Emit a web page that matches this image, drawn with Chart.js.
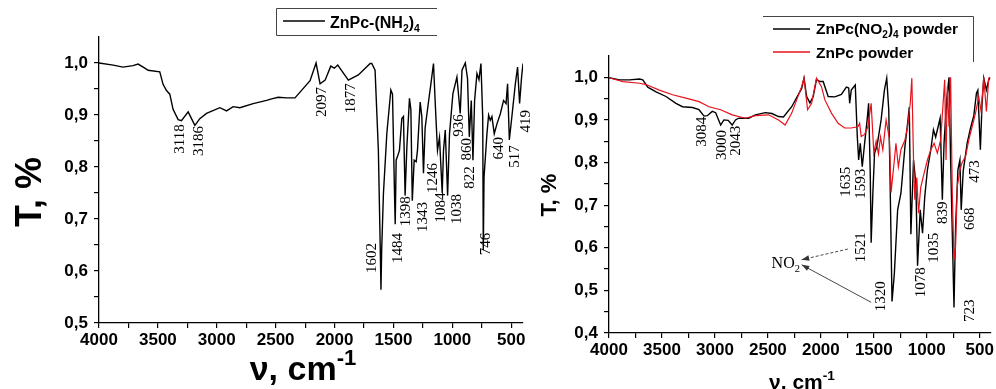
<!DOCTYPE html>
<html>
<head>
<meta charset="utf-8">
<script src="https://cdn.jsdelivr.net/npm/chart.js@4.4.1/dist/chart.umd.min.js"></script>
<style>
  body { margin: 0; background: #fff; }
  #left { position: absolute; left: 0; top: 0; }
  #right { position: absolute; left: 540px; top: 0; }
</style>
</head>
<body>
<canvas id="left" width="540" height="389"></canvas>
<canvas id="right" width="456" height="389"></canvas>
<script>
// ZnPc-(NH2)4 spectrum (wavenumber, transmittance)
const nh2Nu = [4000, 3879, 3796, 3711, 3668, 3611, 3583, 3484, 3456, 3427, 3399, 3371, 3328, 3300, 3243, 3186, 3144, 3087,
  2974, 2917, 2861, 2804, 2691, 2577, 2534, 2478, 2407, 2336, 2293, 2208, 2157, 2123, 2080, 2032, 2002, 1973, 1883, 1798,
  1698, 1684, 1656, 1628, 1610, 1606, 1600, 1585, 1556, 1522, 1508, 1491, 1485, 1477, 1466, 1449, 1429, 1415, 1401, 1386,
  1364, 1352, 1340, 1324, 1307, 1296, 1273, 1259, 1245, 1231, 1202, 1182, 1160, 1145, 1126, 1109, 1086, 1075, 1060, 1040,
  1024, 995, 961, 933, 918, 890, 871, 856, 839, 825, 811, 791, 774, 757, 742, 737, 731, 706, 692, 678, 664, 644, 621, 593,
  565, 544, 531, 516, 493, 465, 446, 429, 412, 400];
const nh2T = [1.0, 0.996, 0.992, 0.995, 0.998, 0.99, 0.986, 0.983, 0.959, 0.947, 0.94, 0.911, 0.891, 0.889, 0.906, 0.88, 0.893, 0.903,
  0.914, 0.908, 0.916, 0.914, 0.922, 0.928, 0.931, 0.934, 0.933, 0.933, 0.944, 0.966, 1.0, 0.96, 0.967, 0.994, 0.99, 0.996, 0.967, 0.977,
  0.999, 0.999, 0.986, 0.832, 0.62, 0.564, 0.64, 0.749, 0.865, 0.948, 0.94, 0.749, 0.69, 0.813, 0.82, 0.832, 0.893, 0.897, 0.745, 0.839,
  0.932, 0.91, 0.735, 0.813, 0.81, 0.832, 0.925, 0.897, 0.788, 0.875, 0.926, 0.96, 0.999, 0.922, 0.832, 0.857, 0.75, 0.832, 0.871, 0.745,
  0.864, 0.941, 0.973, 0.903, 0.986, 1.0, 0.97, 0.858, 0.928, 0.813, 0.928, 0.98, 0.968, 0.999, 0.895, 0.64, 0.78, 0.864, 0.9, 0.89, 0.897, 0.864, 0.883, 0.902,
  0.928, 0.922, 0.96, 0.852, 0.9, 0.96, 0.992, 0.922, 0.973, 0.999];

// ZnPc(NO2)4 powder
const no2Nu = [4000, 3900, 3806, 3712, 3681, 3634, 3556, 3462, 3368, 3306, 3212, 3150, 3103, 3072, 3025, 2993, 2946, 2915, 2875,
  2837, 2806, 2775, 2681, 2618, 2524, 2462, 2400, 2353, 2275, 2181, 2159, 2134, 2103, 2072, 2041, 2009, 1978, 1931, 1868, 1806,
  1759, 1737, 1728, 1713, 1675, 1656, 1643, 1628, 1609, 1587, 1563, 1549, 1534, 1525, 1509, 1493, 1469, 1431, 1400, 1378, 1359,
  1347, 1328, 1306, 1275, 1244, 1206, 1181, 1165, 1150, 1125, 1103, 1087, 1062, 1040, 1019, 994, 962, 937, 916, 893, 874, 853,
  837, 812, 790, 775, 759, 743, 728, 706, 687, 675, 656, 619, 588, 556, 531, 518, 494, 478, 462, 437, 415, 400];
const no2T = [0.999, 0.994, 0.994, 0.996, 0.994, 0.977, 0.966, 0.955, 0.939, 0.931, 0.929, 0.924, 0.909, 0.91, 0.92, 0.917, 0.888, 0.9, 0.899,
  0.888, 0.9, 0.904, 0.904, 0.912, 0.917, 0.915, 0.908, 0.907, 0.931, 0.974, 0.998, 0.955, 0.94, 0.955, 0.995, 0.99, 0.99, 0.955, 0.954, 0.96,
  0.977, 0.975, 0.939, 0.97, 0.982, 0.861, 0.806, 0.845, 0.79, 0.845, 0.9, 0.939, 0.78, 0.612, 0.728, 0.822, 0.84, 0.9, 0.97, 0.998, 0.924,
  0.767, 0.474, 0.54, 0.689, 0.728, 0.838, 0.892, 0.93, 0.632, 0.806, 0.75, 0.558, 0.689, 0.634, 0.72, 0.783, 0.83, 0.877, 0.86, 0.884, 0.904, 0.713,
  0.845, 0.947, 1.0, 0.806, 0.634, 0.46, 0.65, 0.783, 0.806, 0.689, 0.78, 0.845, 0.88, 0.91, 0.963, 0.97, 0.83, 0.939, 0.998, 0.97, 0.994, 1.0];

// ZnPc powder
const pcNu = [4000, 3869, 3712, 3650, 3525, 3400, 3274, 3150, 3056, 2946, 2837, 2712, 2618, 2493, 2400, 2337, 2275, 2181, 2159,
  2125, 2087, 2041, 1994, 1962, 1900, 1837, 1775, 1713, 1650, 1634, 1619, 1587, 1556, 1525, 1500, 1478, 1456, 1437, 1415, 1384,
  1353, 1337, 1306, 1291, 1268, 1244, 1206, 1181, 1156, 1141, 1125, 1113, 1094, 1078, 1057, 1025, 994, 962, 931, 900, 869, 831,
  818, 806, 790, 775, 759, 743, 728, 712, 687, 666, 634, 603, 572, 541, 509, 487, 462, 437, 415, 400];
const pcT = [0.999, 0.99, 0.986, 0.983, 0.97, 0.959, 0.951, 0.943, 0.931, 0.924, 0.912, 0.904, 0.91, 0.912, 0.9, 0.888, 0.916, 0.978, 0.998,
  0.924, 0.939, 0.998, 0.978, 0.947, 0.916, 0.892, 0.881, 0.881, 0.884, 0.892, 0.861, 0.866, 0.884, 0.939, 0.822, 0.85, 0.82, 0.86, 0.83, 0.9,
  0.856, 0.73, 0.806, 0.845, 0.79, 0.83, 0.853, 0.884, 0.939, 0.998, 0.806, 0.713, 0.765, 0.681, 0.742, 0.775, 0.806, 0.83, 0.845, 0.822, 0.853, 0.994,
  0.806, 0.978, 0.884, 1.0, 0.728, 0.572, 0.603, 0.744, 0.783, 0.8, 0.814, 0.853, 0.884, 0.915, 0.954, 0.92, 1.0, 0.92, 0.998, 1.0];

// peak labels: text, wavenumber and transmittance where the label sits
const nh2Labels = ["3118", "3186", "2097", "1877", "1602", "1484", "1398", "1343", "1246", "1084", "1038", "936", "860", "822", "746", "640", "517", "419"];
const nh2LabelNu = [3314, 3152, 2106, 1860, 1681, 1460, 1395, 1245, 1165, 1094, 961, 941, 876, 848, 712, 607, 471, 374];
const nh2LabelT = [0.854, 0.85, 0.925, 0.932, 0.625, 0.644, 0.715, 0.704, 0.779, 0.722, 0.719, 0.88, 0.834, 0.78, 0.652, 0.836, 0.82, 0.888];

const no2Labels = ["3084", "3000", "2043", "1635", "1593", "1521", "1320", "1078", "1035", "839", "668", "723", "473"];
const no2LabelNu = [3119, 2937, 2800, 1759, 1616, 1625, 1431, 1056, 931, 844, 593, 588, 541];
const no2LabelT = [0.872, 0.841, 0.851, 0.755, 0.75, 0.601, 0.486, 0.519, 0.6, 0.682, 0.668, 0.452, 0.779];

const xMajor = [4000, 3500, 3000, 2500, 2000, 1500, 1000, 500];
const xMinor = [3750, 3250, 2750, 2250, 1750, 1250, 750];
const yLeftTicks = [0.5, 0.55, 0.6, 0.65, 0.7, 0.75, 0.8, 0.85, 0.9, 0.95, 1.0];
const yRightTicks = [0.4, 0.45, 0.5, 0.55, 0.6, 0.65, 0.7, 0.75, 0.8, 0.85, 0.9, 0.95, 1.0];

const SANS = '"Liberation Sans", Arial, sans-serif';
const SERIF = '"Liberation Serif", "Times New Roman", serif';

function pts(nu, t) {
  return nu.map((v, i) => ({ x: v, y: t[i] }));
}

// text with sub/superscripts, parts = [[text, "n"|"sub"|"sup"], ...]
function partsWidth(ctx, parts, size) {
  let w = 0;
  parts.forEach(([t, k]) => {
    ctx.font = `bold ${k === "n" ? size : size * 0.65}px ${SANS}`;
    w += ctx.measureText(t).width;
  });
  return w;
}
function drawParts(ctx, parts, x, y, size, family, weight) {
  let cx = x;
  parts.forEach(([t, k]) => {
    let s = k === "n" ? size : size * 0.65;
    let dy = k === "sub" ? size * 0.28 : k === "sup" ? -size * 0.45 : 0;
    ctx.font = `${weight} ${s}px ${family}`;
    ctx.textAlign = "left";
    ctx.textBaseline = "alphabetic";
    ctx.fillText(t, cx, y + dy);
    cx += ctx.measureText(t).width;
  });
}
function vText(ctx, text, x, y, font) {
  ctx.save();
  ctx.translate(x, y);
  ctx.rotate(-Math.PI / 2);
  ctx.font = font;
  ctx.textAlign = "center";
  ctx.textBaseline = "middle";
  ctx.fillText(text, 0, 0);
  ctx.restore();
}
function arrow(ctx, x1, y1, x2, y2, dashed) {
  ctx.save();
  ctx.strokeStyle = "#333";
  ctx.fillStyle = "#333";
  ctx.lineWidth = 0.9;
  if (dashed) ctx.setLineDash([3, 2]);
  ctx.beginPath();
  ctx.moveTo(x1, y1);
  ctx.lineTo(x2, y2);
  ctx.stroke();
  ctx.setLineDash([]);
  let a = Math.atan2(y2 - y1, x2 - x1);
  ctx.beginPath();
  ctx.moveTo(x2, y2);
  ctx.lineTo(x2 - 8 * Math.cos(a - 0.35), y2 - 8 * Math.sin(a - 0.35));
  ctx.lineTo(x2 - 8 * Math.cos(a + 0.35), y2 - 8 * Math.sin(a + 0.35));
  ctx.closePath();
  ctx.fill();
  ctx.restore();
}

function axes(yTicks, yMin, yWidth, xHeight) {
  return {
    x: {
      type: "linear",
      reverse: true,
      min: 400,
      max: 4000,
      afterBuildTicks: (ax) => { ax.ticks = xMajor.concat(xMinor).sort((a, b) => b - a).map((v) => ({ value: v })); },
      afterFit: (s) => { s.height = xHeight; },
      ticks: {
        autoSkip: false,
        maxRotation: 0,
        padding: 2,
        color: "#000",
        font: { family: SANS, weight: "bold", size: 17 },
        callback: (v) => (xMajor.includes(v) ? String(v) : ""),
      },
      grid: { drawOnChartArea: false, tickLength: 5, color: "#000", lineWidth: 1.2 },
      border: { color: "#000", width: 1.3 },
    },
    y: {
      type: "linear",
      min: yMin,
      max: 1.05,
      afterBuildTicks: (ax) => { ax.ticks = yTicks.map((v) => ({ value: v })); },
      afterFit: (s) => { s.width = yWidth; },
      ticks: {
        autoSkip: false,
        padding: 6,
        color: "#000",
        font: { family: SANS, weight: "bold", size: 17 },
        callback: (v) => (Math.round(v * 100) % 10 === 0 ? v.toFixed(1).replace(".", ",") : ""),
      },
      grid: { drawOnChartArea: false, tickLength: 5, color: "#000", lineWidth: 1.2 },
      border: { color: "#000", width: 1.3 },
    },
  };
}

function peakLabels(chart, labels, nu, t) {
  const ctx = chart.ctx;
  const xs = chart.scales.x, ys = chart.scales.y;
  ctx.fillStyle = "#000";
  labels.forEach((l, i) => {
    vText(ctx, l, xs.getPixelForValue(nu[i]), ys.getPixelForValue(t[i]), `15px ${SERIF}`);
  });
}

const leftDecor = {
  id: "leftDecor",
  afterDraw(chart) {
    const ctx = chart.ctx;
    ctx.save();
    peakLabels(chart, nh2Labels, nh2LabelNu, nh2LabelT);
    // legend
    ctx.strokeStyle = "#444";
    ctx.lineWidth = 1;
    ctx.beginPath();
    ctx.moveTo(437, 8.5); ctx.lineTo(276.5, 8.5); ctx.lineTo(276.5, 35.5); ctx.lineTo(437, 35.5);
    ctx.stroke();
    ctx.strokeStyle = "#000";
    ctx.lineWidth = 1.5;
    ctx.beginPath(); ctx.moveTo(283, 21); ctx.lineTo(325, 21); ctx.stroke();
    ctx.fillStyle = "#000";
    drawParts(ctx, [["ZnPc-(NH", "n"], ["2", "sub"], [")", "n"], ["4", "sub"]], 330, 27.5, 16, SANS, "bold");
    // axis titles
    vText(ctx, "T, %", 31, 192, `bold 36px ${SANS}`);
    const tp = [["\u03bd, cm", "n"], ["-1", "sup"]];
    drawParts(ctx, tp, 303 - partsWidth(ctx, tp, 34) / 2, 380, 34, SANS, "bold");
    ctx.restore();
  },
};

const rightDecor = {
  id: "rightDecor",
  afterDraw(chart) {
    const ctx = chart.ctx;
    const xs = chart.scales.x, ys = chart.scales.y;
    ctx.save();
    peakLabels(chart, no2Labels, no2LabelNu, no2LabelT);
    // NO2 note with arrows
    ctx.fillStyle = "#000";
    drawParts(ctx, [["NO", "n"], ["2", "sub"]], xs.getPixelForValue(2465), ys.getPixelForValue(0.553), 16, SERIF, "normal");
    arrow(ctx, xs.getPixelForValue(1745), ys.getPixelForValue(0.597), xs.getPixelForValue(2181), ys.getPixelForValue(0.572), true);
    arrow(ctx, xs.getPixelForValue(1525), ys.getPixelForValue(0.472), xs.getPixelForValue(2181), ys.getPixelForValue(0.56), false);
    // legend
    ctx.strokeStyle = "#444";
    ctx.lineWidth = 1;
    ctx.beginPath();
    ctx.moveTo(223, 16.5); ctx.lineTo(433.5, 16.5); ctx.lineTo(433.5, 62);
    ctx.stroke();
    ctx.lineWidth = 1.5;
    ctx.strokeStyle = "#000";
    ctx.beginPath(); ctx.moveTo(233, 29); ctx.lineTo(270, 29); ctx.stroke();
    ctx.strokeStyle = "#e8121c";
    ctx.beginPath(); ctx.moveTo(233, 52); ctx.lineTo(270, 52); ctx.stroke();
    ctx.fillStyle = "#000";
    drawParts(ctx, [["ZnPc(NO", "n"], ["2", "sub"], [")", "n"], ["4", "sub"], [" powder", "n"]], 276, 34, 15.5, SANS, "bold");
    drawParts(ctx, [["ZnPc powder", "n"]], 276, 58, 15.5, SANS, "bold");
    // axis titles
    vText(ctx, "T, %", 10, 195, `bold 22px ${SANS}`);
    const tp = [["\u03bd, cm", "n"], ["-1", "sup"]];
    drawParts(ctx, tp, 262 - partsWidth(ctx, tp, 21) / 2, 389, 21, SANS, "bold");
    ctx.restore();
  },
};

new Chart(document.getElementById("left"), {
  type: "line",
  data: {
    datasets: [
      {
        label: "ZnPc-(NH2)4",
        data: pts(nh2Nu, nh2T),
        borderColor: "#000",
        borderWidth: 1.4,
        pointRadius: 0,
        tension: 0,
      },
    ],
  },
  options: {
    responsive: false,
    animation: false,
    events: [],
    layout: { padding: { left: 0, right: 17, top: 37, bottom: 0 } },
    plugins: { legend: { display: false }, tooltip: { enabled: false } },
    scales: axes(yLeftTicks, 0.5, 99, 66),
  },
  plugins: [leftDecor],
});

new Chart(document.getElementById("right"), {
  type: "line",
  data: {
    datasets: [
      {
        label: "ZnPc(NO2)4 powder",
        data: pts(no2Nu, no2T),
        borderColor: "#000",
        borderWidth: 1.4,
        pointRadius: 0,
        tension: 0,
        order: 1,
      },
      {
        label: "ZnPc powder",
        data: pts(pcNu, pcT),
        borderColor: "#e8121c",
        borderWidth: 1.2,
        pointRadius: 0,
        tension: 0,
        order: 0,
      },
    ],
  },
  options: {
    responsive: false,
    animation: false,
    events: [],
    layout: { padding: { left: 0, right: 3, top: 56, bottom: 0 } },
    plugins: { legend: { display: false }, tooltip: { enabled: false } },
    scales: axes(yRightTicks, 0.4, 69, 56),
  },
  plugins: [rightDecor],
});
</script>
</body>
</html>
